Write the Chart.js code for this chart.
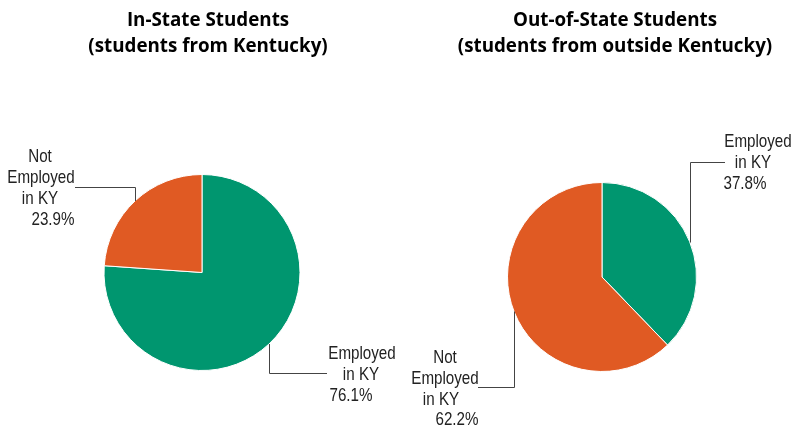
<!DOCTYPE html>
<html>
<head>
<meta charset="utf-8">
<script src="https://cdn.jsdelivr.net/npm/chart.js@4"></script>
<style>
  body { margin: 0; background: #fff; width: 791px; height: 426px; position: relative; overflow: hidden; }
  canvas { position: absolute; top: 0; left: 0; }
</style>
</head>
<body>
<canvas id="inChart" width="791" height="426"></canvas>
<canvas id="outChart" width="791" height="426"></canvas>
<script>
// data
const categories = ['Employed in KY', 'Not Employed in KY'];
const inState = [76.1, 23.9];
const outState = [37.8, 62.2];
const titles = [
  ['In-State Students', '(students from Kentucky)'],
  ['Out-of-State Students', '(students from outside Kentucky)']
];
const colors = ['#00966f', '#e05a23'];

const labelFont = '18.5px "Liberation Sans", Arial, sans-serif';
const titleFont = 'bold 18.8px "Open Sans", sans-serif';

// label text: split category name into lines, add the value
function labelLines(cat, v) {
  let lines = cat.startsWith('Not') ? ['Not', 'Employed', 'in KY'] : ['Employed', 'in KY'];
  return lines.concat([v.toFixed(1) + '%']);
}

// leader line + text placement
const inPlace = [
  { vx: 269, ey: 373, hx: 327, pos: [[362, 354], [361, 375], [351, 396]] },
  { vx: 135, ey: 187, hx: 75, pos: [[40, 157], [41, 178], [40, 199], [53, 220]] }
];
const outPlace = [
  { vx: 690, ey: 162, hx: 725, pos: [[758, 142], [753, 163], [745, 184]] },
  { vx: 514, ey: 387, hx: 478, pos: [[445, 358], [445, 379], [441, 400], [457, 420]] }
];

const labelPlugin = {
  id: 'pieLabels',
  afterDraw(chart) {
    const ctx = chart.ctx;
    const o = chart.options.plugins.pieLabels;
    const meta = chart.getDatasetMeta(0);
    const vals = chart.data.datasets[0].data;
    ctx.save();
    // titles
    ctx.fillStyle = '#000';
    ctx.font = titleFont;
    ctx.textAlign = 'center';
    ctx.textBaseline = 'middle';
    ctx.fillText(o.title[0], o.titleX, 21);
    ctx.fillText(o.title[1], o.titleX, 47);
    // leaders
    ctx.font = labelFont;
    meta.data.forEach((arc, i) => {
      const p = o.place[i];
      const dx = p.vx - arc.x;
      const r = arc.outerRadius;
      const edgeY = arc.y + Math.sign(p.ey - arc.y) * Math.sqrt(Math.max(r * r - dx * dx, 0));
      ctx.strokeStyle = '#444';
      ctx.lineWidth = 1;
      ctx.beginPath();
      ctx.moveTo(p.vx + 0.5, edgeY);
      ctx.lineTo(p.vx + 0.5, p.ey + 0.5);
      ctx.lineTo(p.hx, p.ey + 0.5);
      ctx.stroke();
      ctx.fillStyle = '#222';
      labelLines(chart.data.labels[i], vals[i]).forEach((t, j) => {
        // narrow look: squeeze the regular face horizontally
        ctx.save();
        ctx.translate(p.pos[j][0], p.pos[j][1]);
        ctx.scale(0.82, 1);
        ctx.fillText(t, 0, 0);
        ctx.restore();
      });
    });
    ctx.restore();
  }
};

function makePie(id, values, pad, title, titleX, place) {
  return new Chart(document.getElementById(id), {
    type: 'pie',
    data: {
      labels: categories,
      datasets: [{
        data: values,
        backgroundColor: colors,
        borderColor: '#fff',
        borderWidth: 1
      }]
    },
    options: {
      responsive: false,
      animation: false,
      layout: { padding: pad },
      plugins: {
        legend: { display: false },
        tooltip: { enabled: false },
        pieLabels: { title: title, titleX: titleX, place: place }
      }
    },
    plugins: [labelPlugin]
  });
}

makePie('inChart', inState, { left: 103.5, right: 490.5, top: 174, bottom: 55 }, titles[0], 208, inPlace);
makePie('outChart', outState, { left: 507, right: 94, top: 182, bottom: 54 }, titles[1], 615, outPlace);
</script>
</body>
</html>
